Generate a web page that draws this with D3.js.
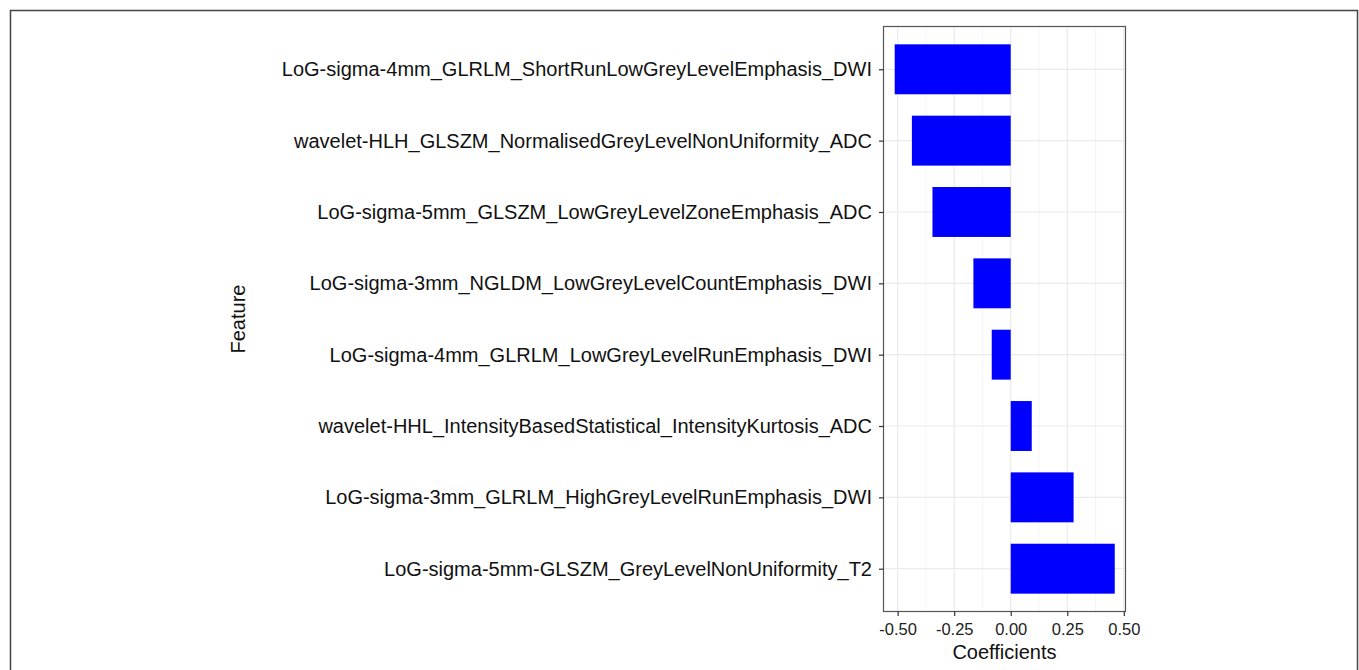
<!DOCTYPE html>
<html>
<head>
<meta charset="utf-8">
<script src="https://cdn.jsdelivr.net/npm/d3@7"></script>
<style>
  body { margin: 0; background: #fff; }
  text { font-family: "Liberation Sans", Arial, sans-serif; }
</style>
</head>
<body>
<script>
// feature names, top to bottom
const features = [
  'LoG-sigma-4mm_GLRLM_ShortRunLowGreyLevelEmphasis_DWI',
  'wavelet-HLH_GLSZM_NormalisedGreyLevelNonUniformity_ADC',
  'LoG-sigma-5mm_GLSZM_LowGreyLevelZoneEmphasis_ADC',
  'LoG-sigma-3mm_NGLDM_LowGreyLevelCountEmphasis_DWI',
  'LoG-sigma-4mm_GLRLM_LowGreyLevelRunEmphasis_DWI',
  'wavelet-HHL_IntensityBasedStatistical_IntensityKurtosis_ADC',
  'LoG-sigma-3mm_GLRLM_HighGreyLevelRunEmphasis_DWI',
  'LoG-sigma-5mm-GLSZM_GreyLevelNonUniformity_T2'
];
const coefficients = [-0.513, -0.437, -0.346, -0.165, -0.084, 0.093, 0.278, 0.46];
const xTicks = [-0.5, -0.25, 0, 0.25, 0.5];
const xMinor = [-0.375, -0.125, 0.125, 0.375];

const width = 1359, height = 670;
const panel = { left: 883.5, top: 26.5, right: 1125.5, bottom: 611.5 };

const svg = d3.select('body').append('svg')
  .attr('width', width)
  .attr('height', height);

// outer frame
svg.append('rect')
  .attr('x', 10.5)
  .attr('y', 10.5)
  .attr('width', 1347)
  .attr('height', 680)
  .attr('fill', 'none')
  .attr('stroke', '#444')
  .attr('stroke-width', 1.5);

const x = d3.scaleLinear()
  .domain([-0.5625, 0.5075])
  .range([panel.left, panel.right]);

// ggplot style discrete axis: 0.6 unit padding on each side
const y = d3.scalePoint()
  .domain(features)
  .range([panel.top, panel.bottom])
  .padding(0.6);

const barH = y.step() * 0.7;

// minor grid
svg.append('g').selectAll('line')
  .data(xMinor)
  .join('line')
  .attr('x1', d => x(d)).attr('x2', d => x(d))
  .attr('y1', panel.top).attr('y2', panel.bottom)
  .style('stroke', '#f2f2f2')
  .style('stroke-width', '0.8px');

// major grid
svg.append('g').selectAll('line')
  .data(xTicks)
  .join('line')
  .attr('x1', d => x(d)).attr('x2', d => x(d))
  .attr('y1', panel.top).attr('y2', panel.bottom)
  .style('stroke', '#ebebeb')
  .style('stroke-width', '1.2px');

svg.append('g').selectAll('line')
  .data(features)
  .join('line')
  .attr('x1', panel.left).attr('x2', panel.right)
  .attr('y1', d => y(d)).attr('y2', d => y(d))
  .style('stroke', '#ebebeb')
  .style('stroke-width', '1.2px');

// bars
svg.append('g').selectAll('rect')
  .data(features)
  .join('rect')
  .attr('x', (d, i) => x(Math.min(0, coefficients[i])))
  .attr('width', (d, i) => Math.abs(x(coefficients[i]) - x(0)))
  .attr('y', d => y(d) - barH / 2)
  .attr('height', barH)
  .attr('fill', '#0000ff');

// panel border
svg.append('rect')
  .attr('x', panel.left)
  .attr('y', panel.top)
  .attr('width', panel.right - panel.left)
  .attr('height', panel.bottom - panel.top)
  .attr('fill', 'none')
  .style('stroke', '#555')
  .style('stroke-width', '1.2px');

// x axis
const xAxis = svg.append('g')
  .attr('transform', `translate(0,${panel.bottom})`)
  .call(d3.axisBottom(x).tickValues(xTicks).tickSize(4.5).tickPadding(7)
    .tickFormat(d3.format('.2f')));
xAxis.select('.domain').remove();
xAxis.selectAll('line').style('stroke', '#333').style('stroke-width', '1.2px');
xAxis.selectAll('text')
  .style('font-size', '16.5px')
  .style('fill', '#222')
  .text(d => d3.format('.2f')(d).replace('−', '-'));

// y axis
const yAxis = svg.append('g')
  .attr('transform', `translate(${panel.left},0)`)
  .call(d3.axisLeft(y).tickSize(4.5).tickPadding(7));
yAxis.select('.domain').remove();
yAxis.selectAll('line').style('stroke', '#333').style('stroke-width', '1.2px');
yAxis.selectAll('text')
  .style('font-size', '20px')
  .style('fill', '#111');

// axis titles
svg.append('text')
  .attr('x', (panel.left + panel.right) / 2)
  .attr('y', 659)
  .attr('text-anchor', 'middle')
  .style('font-size', '20px')
  .style('fill', '#111')
  .text('Coefficients');

svg.append('text')
  .attr('transform', `translate(245,${(panel.top + panel.bottom) / 2}) rotate(-90)`)
  .attr('text-anchor', 'middle')
  .style('font-size', '20px')
  .style('fill', '#111')
  .text('Feature');
</script>
</body>
</html>
